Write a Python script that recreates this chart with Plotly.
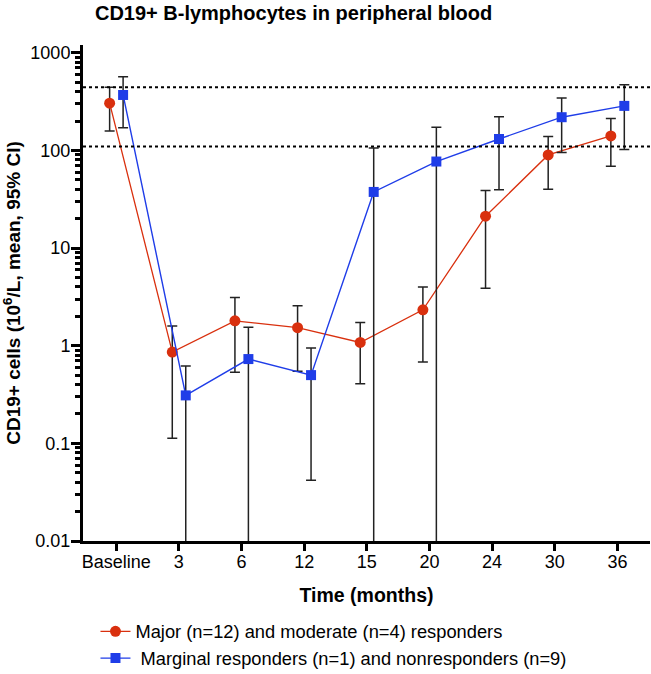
import plotly.graph_objects as go

# Time points (categorical x axis)
time_labels = ['Baseline', '3', '6', '12', '15', '20', '24', '30', '36']

# Major + moderate responders: mean and 95% CI (10^6/L)
major_mean = [305, 0.86, 1.80, 1.53, 1.08, 2.33, 21.2, 90, 141]
major_upper = [444, 1.59, 3.12, 2.56, 1.73, 4.0, 38.8, 139, 212]
major_lower = [158, 0.113, 0.535, 0.548, 0.409, 0.68, 3.88, 40, 69]

# Marginal responders + nonresponders: mean and 95% CI (lower CI < 0 where it runs off the axis)
marg_mean = [370, 0.31, 0.73, 0.50, 37.6, 77, 131, 219, 286]
marg_upper = [569, 0.62, 1.55, 0.95, 106, 173, 221, 345, 471]
marg_lower = [171, -0.2, -0.5, 0.042, -20, -40, 39.5, 95.5, 102]

# Normal reference range (dotted lines)
ref_lines = [110, 445]

# y ticks: labelled decades, unlabelled 2..9 in between
major_ticks = [0.01, 0.1, 1, 10, 100, 1000]
major_text = ['0.01', '0.1', '1', '10', '100', '1000']

idx = list(range(len(time_labels)))
minor_vals = [k * 10 ** e for e in range(-2, 3) for k in range(2, 10)]

fig = go.Figure()

fig.add_trace(go.Scatter(
    x=[i - 0.105 for i in idx],
    y=major_mean,
    mode='lines+markers',
    name='Major (n=12) and moderate (n=4) responders',
    line=dict(color='#D9300E', width=1.3),
    marker=dict(symbol='circle', size=11, color='#D9300E'),
    error_y=dict(
        type='data', symmetric=False,
        array=[u - m for u, m in zip(major_upper, major_mean)],
        arrayminus=[m - l for m, l in zip(major_mean, major_lower)],
        color='#222222', thickness=1.5, width=5
    ),
    legendgroup='a'
))

fig.add_trace(go.Scatter(
    x=[i + 0.11 for i in idx],
    y=marg_mean,
    mode='lines+markers',
    name=' Marginal responders (n=1) and nonresponders (n=9)',
    line=dict(color='#1F3DE8', width=1.4),
    marker=dict(symbol='square', size=10, color='#1F3DE8'),
    error_y=dict(
        type='data', symmetric=False,
        array=[u - m for u, m in zip(marg_upper, marg_mean)],
        arrayminus=[m - l for m, l in zip(marg_mean, marg_lower)],
        color='#222222', thickness=1.5, width=5
    ),
    legendgroup='b'
))

# empty trace on the overlay axis that carries the short minor ticks
fig.add_trace(go.Scatter(x=[None], y=[None], yaxis='y2', showlegend=False, hoverinfo='skip'))

for v in ref_lines:
    fig.add_hline(y=v, line=dict(color='black', width=2, dash='dot'))

fig.update_layout(
    width=651, height=674,
    margin=dict(l=83, r=1, t=45, b=133, autoexpand=False),
    paper_bgcolor='white', plot_bgcolor='white',
    font=dict(family='Liberation Sans, Arial, sans-serif', size=18, color='black'),
    title=dict(
        text='<b>CD19+ B-lymphocytes in peripheral blood</b>',
        x=0.451, xanchor='center', xref='container',
        y=0.981, yanchor='middle', yref='container',
        font=dict(size=20)
    ),
    showlegend=True,
    legend=dict(
        x=0.022, xanchor='left', y=-0.145, yanchor='top',
        traceorder='grouped', tracegroupgap=0,
        font=dict(size=18.3), bgcolor='rgba(0,0,0,0)'
    ),
    xaxis=dict(
        range=[-0.53, 8.52],
        tickvals=idx, ticktext=time_labels,
        showgrid=False, zeroline=False,
        showline=True, linecolor='black', linewidth=3,
        ticks='outside', ticklen=7, tickwidth=3, tickcolor='black',
        ticklabelstandoff=-5,
        title=dict(text='<b>Time (months)</b>', font=dict(size=19.5), standoff=18)
    ),
    yaxis=dict(
        type='log', range=[-2, 3.08],
        tickvals=major_ticks, ticktext=major_text,
        showgrid=False, zeroline=False,
        showline=True, linecolor='black', linewidth=3,
        ticks='outside', ticklen=9, tickwidth=3, tickcolor='black',
        ticklabelstandoff=-3,
        title=dict(text='<b>CD19+ cells (10<sup>6</sup>/L, mean, 95% CI)</b>',
                   font=dict(size=19), standoff=7)
    ),
    yaxis2=dict(
        type='log', range=[-2, 3.08], overlaying='y', side='left', anchor='x',
        tickvals=minor_vals, ticktext=[''] * len(minor_vals),
        showgrid=False, zeroline=False, showline=False,
        ticks='outside', ticklen=7, tickwidth=2.5, tickcolor='black'
    )
)

# the default page has an 8px body margin; remove it so the figure sits at (0, 0)
fig.write_html('out.html', config={'displayModeBar': False},
               post_script="document.body.style.margin='0';")
